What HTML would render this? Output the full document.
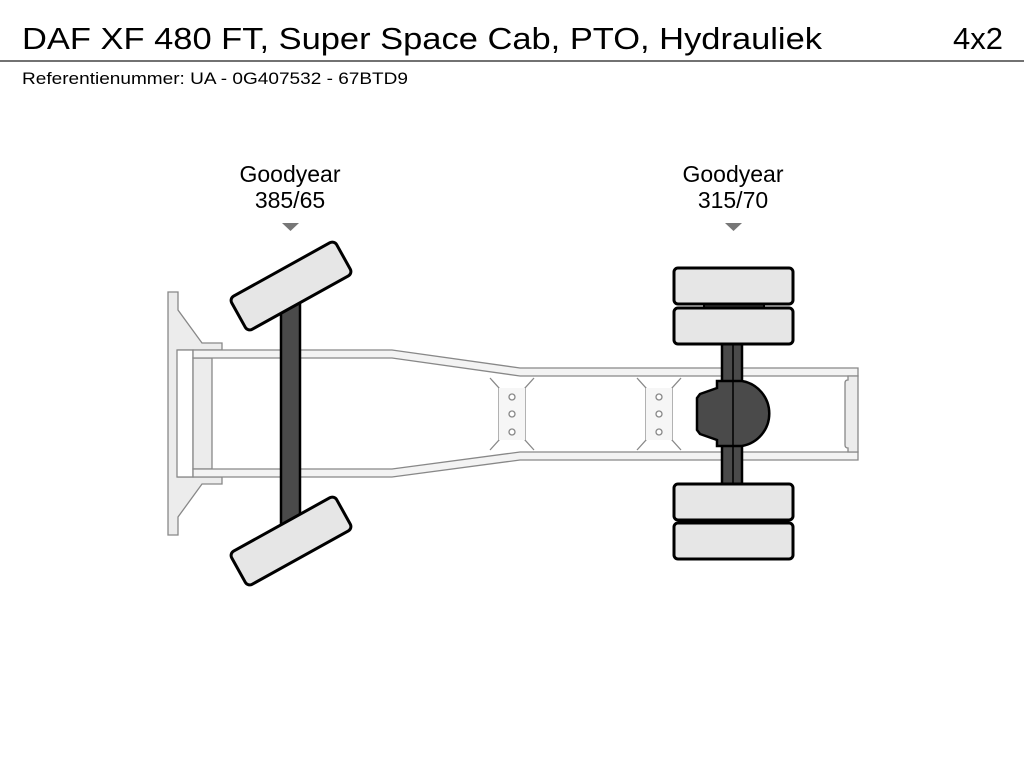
<!DOCTYPE html>
<html><head><meta charset="utf-8"><style>
html,body{margin:0;padding:0;background:#fff;}
svg{display:block;}
text{font-family:"Liberation Sans",Arial,sans-serif;fill:#000;}
</style></head><body>
<svg width="1024" height="768" viewBox="0 0 1024 768" xmlns="http://www.w3.org/2000/svg">
<text x="22" y="49" font-size="31" textLength="800" lengthAdjust="spacingAndGlyphs">DAF XF 480 FT, Super Space Cab, PTO, Hydrauliek</text>
<text x="1003" y="49" font-size="31" text-anchor="end">4x2</text>
<line x1="0" y1="61" x2="1024" y2="61" stroke="#444" stroke-width="1.5"/>
<text x="22" y="84" font-size="17" textLength="386" lengthAdjust="spacingAndGlyphs">Referentienummer: UA - 0G407532 - 67BTD9</text>

<text x="290" y="182" font-size="23" text-anchor="middle">Goodyear</text>
<text x="290" y="208" font-size="23" text-anchor="middle">385/65</text>
<polygon points="282,223 299,223 290.5,231" fill="#777"/>
<text x="733" y="182" font-size="23" text-anchor="middle">Goodyear</text>
<text x="733" y="208" font-size="23" text-anchor="middle">315/70</text>
<polygon points="725,223 742,223 733.5,231" fill="#777"/>

<g stroke="#888" stroke-width="1.3" fill="#ececec">
<path d="M168,292 L178,292 L178,310 L202,343 L222,343 L222,350 L178,350 L178,477 L222,477 L222,484 L202,484 L178,517 L178,535 L168,535 Z"/>
<rect x="177" y="350" width="16" height="127" fill="#fff"/>
<rect x="193" y="358" width="19" height="111"/>
<path d="M193,350 L392,350 L520,368 L858,368 L858,376 L520,376 L392,358 L193,358 Z" fill="#f3f3f3"/>
<path d="M193,469 L392,469 L520,452 L858,452 L858,460 L520,460 L392,477 L193,477 Z" fill="#f3f3f3"/>
<path d="M848,376 L858,376 L858,452 L848,452 L848,448 Q845,448 845,445 L845,383 Q845,380 848,380 Z" fill="#ececec"/>
<path d="M490,378 L499,388 L499,440 L490,450 M534,378 L525,388 L525,440 L534,450" fill="none"/>
<rect x="499" y="388" width="26" height="52" fill="#f6f6f6" stroke="none"/>
<path d="M637,378 L646,388 L646,440 L637,450 M681,378 L672,388 L672,440 L681,450" fill="none"/>
<rect x="646" y="388" width="26" height="52" fill="#f6f6f6" stroke="none"/>
</g>
<g fill="#fff" stroke="#888" stroke-width="1.3">
<circle cx="512" cy="397" r="3"/><circle cx="512" cy="414" r="3"/><circle cx="512" cy="432" r="3"/>
<circle cx="659" cy="397" r="3"/><circle cx="659" cy="414" r="3"/><circle cx="659" cy="432" r="3"/>
</g>

<rect x="281" y="300" width="19" height="226" fill="#4a4a4a" stroke="#000" stroke-width="2.5"/>
<rect x="231" y="267" width="120" height="38" rx="5" fill="#e6e6e6" stroke="#000" stroke-width="3" transform="rotate(-29 291 286)"/>
<rect x="231" y="522" width="120" height="38" rx="5" fill="#e6e6e6" stroke="#000" stroke-width="3" transform="rotate(-29 291 541)"/>

<rect x="704" y="302" width="60" height="8" fill="#444" stroke="#000" stroke-width="2"/>
<rect x="704" y="518" width="60" height="8" fill="#444" stroke="#000" stroke-width="2"/>
<rect x="722" y="343" width="20" height="142" fill="#4a4a4a" stroke="#000" stroke-width="2.5"/>
<path d="M717,388 L717,381 L722,381 L742,381 A33,33 0 0 1 742,446 L722,446 L717,446 L717,440 L700,434 L697,430 L697,398 L700,394 Z" fill="#4a4a4a" stroke="#000" stroke-width="2.5"/>
<line x1="733" y1="345" x2="733" y2="483" stroke="#000" stroke-width="1.5"/>
<rect x="674" y="268" width="119" height="36" rx="4" fill="#e6e6e6" stroke="#000" stroke-width="3"/>
<rect x="674" y="308" width="119" height="36" rx="4" fill="#e6e6e6" stroke="#000" stroke-width="3"/>
<rect x="674" y="484" width="119" height="36" rx="4" fill="#e6e6e6" stroke="#000" stroke-width="3"/>
<rect x="674" y="523" width="119" height="36" rx="4" fill="#e6e6e6" stroke="#000" stroke-width="3"/>
</svg>
</body></html>
